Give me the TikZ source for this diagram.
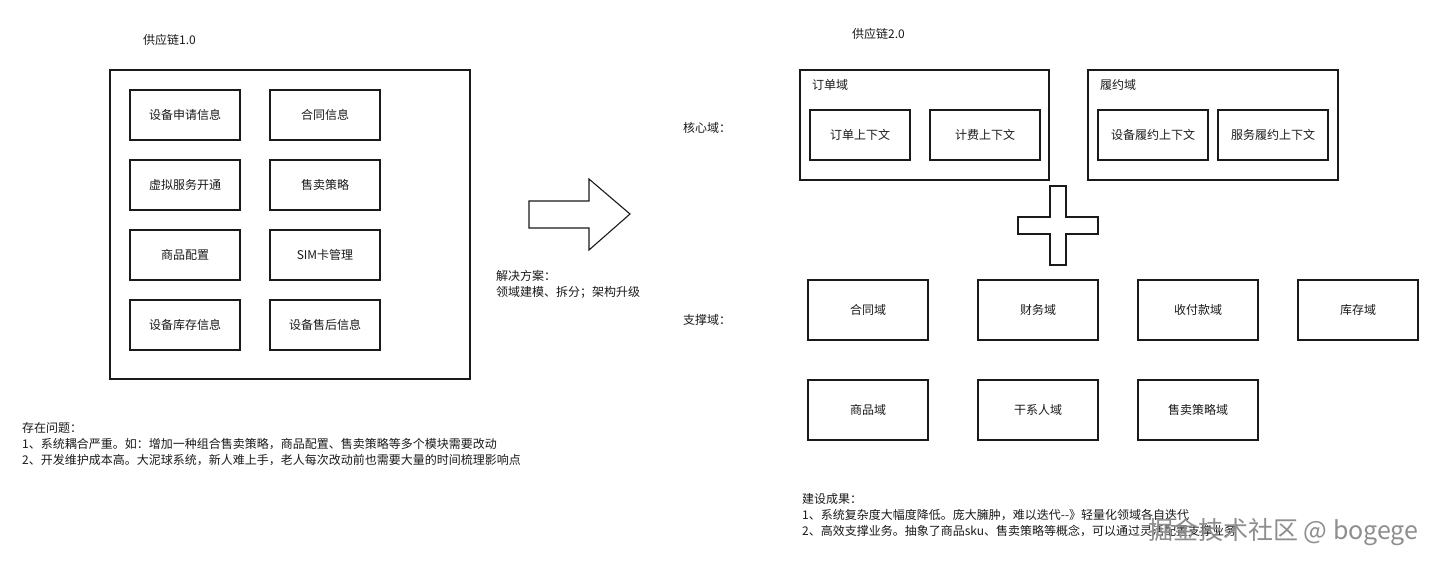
\documentclass[tikz,border=0pt]{standalone}
\usepackage{fontspec}
\setmainfont{Noto Sans CJK SC}
\newfontfamily\cjk{Noto Sans CJK SC}
\definecolor{ink}{HTML}{1A1A1A}
\definecolor{wm}{HTML}{8E8E8E}
\begin{document}
\begin{tikzpicture}[x=1pt,y=-1pt,
  every node/.style={font=\cjk\fontsize{12}{16}\selectfont, text=ink, inner sep=0pt},
  box/.style={draw=ink, line width=1.1pt},
  txt/.style={anchor=west, align=left},
  lbl/.style={anchor=center},
  wmark/.style={anchor=west, font=\cjk\fontsize{25}{28}\selectfont}]
\useasboundingbox (0,0) rectangle (1440,565);
\fill[white] (0,0) rectangle (1440,565);

% ---- left: supply chain 1.0
\node[txt] (t1) at (143,40) {供应链1.0};
\draw[box] (110,70) rectangle (470,379);
\newcommand{\mybox}[6]{\draw[box] (#2,#3) rectangle (#4,#5); \node[lbl] (#1) at ({(#2+#4)/2},{(#3+#5)/2}) {#6};}
\mybox{a1}{130}{90}{240}{140}{设备申请信息}
\mybox{a2}{270}{90}{380}{140}{合同信息}
\mybox{a3}{130}{160}{240}{210}{虚拟服务开通}
\mybox{a4}{270}{160}{380}{210}{售卖策略}
\mybox{a5}{130}{230}{240}{280}{商品配置}
\mybox{a6}{270}{230}{380}{280}{SIM卡管理}
\mybox{a7}{130}{300}{240}{350}{设备库存信息}
\mybox{a8}{270}{300}{380}{350}{设备售后信息}

\node[txt] (p) at (22,444) {存在问题：\\1、系统耦合严重。如：增加一种组合售卖策略，商品配置、售卖策略等多个模块需要改动\\2、开发维护成本高。大泥球系统，新人难上手，老人每次改动前也需要大量的时间梳理影响点};

% ---- big arrow
\draw[box, line join=miter] (529,201) -- (589,201) -- (589,179) -- (630,214) -- (589,250) -- (589,228) -- (529,228) -- cycle;
\node[txt] (s) at (496,284) {解决方案：\\领域建模、拆分；架构升级};

% ---- right: supply chain 2.0
\node[txt] (t2) at (852,34) {供应链2.0};
\node[txt] (core) at (683,128) {核心域：};
\draw[box] (800,70) rectangle (1049,180);
\node[txt] (od) at (812,85) {订单域};
\mybox{b1}{810}{110}{910}{160}{订单上下文}
\mybox{b2}{930}{110}{1040}{160}{计费上下文}
\draw[box] (1088,70) rectangle (1338,180);
\node[txt] (fd) at (1100,85) {履约域};
\mybox{b3}{1098}{110}{1208}{160}{设备履约上下文}
\mybox{b4}{1218}{110}{1328}{160}{服务履约上下文}

% plus
\draw[box, line join=miter] (1050,186) -- (1066,186) -- (1066,217) -- (1098,217) -- (1098,234) -- (1066,234) -- (1066,265) -- (1050,265) -- (1050,234) -- (1018,234) -- (1018,217) -- (1050,217) -- cycle;

\node[txt] (sup) at (683,320) {支撑域：};
\mybox{c1}{808}{280}{928}{340}{合同域}
\mybox{c2}{978}{280}{1098}{340}{财务域}
\mybox{c3}{1138}{280}{1258}{340}{收付款域}
\mybox{c4}{1298}{280}{1418}{340}{库存域}
\mybox{c5}{808}{380}{928}{440}{商品域}
\mybox{c6}{978}{380}{1098}{440}{干系人域}
\mybox{c7}{1138}{380}{1258}{440}{售卖策略域}

\node[txt] (r) at (802,515) {建设成果：\\1、系统复杂度大幅度降低。庞大臃肿，难以迭代--》轻量化领域各自迭代\\2、高效支撑业务。抽象了商品sku、售卖策略等概念，可以通过灵活配置支撑业务};

% watermark (overlaps the text as in the reference)
\node[wmark, text=wm] (wm) at (1148,532) {掘金技术社区 @ bogege};
\end{tikzpicture}
\end{document}
